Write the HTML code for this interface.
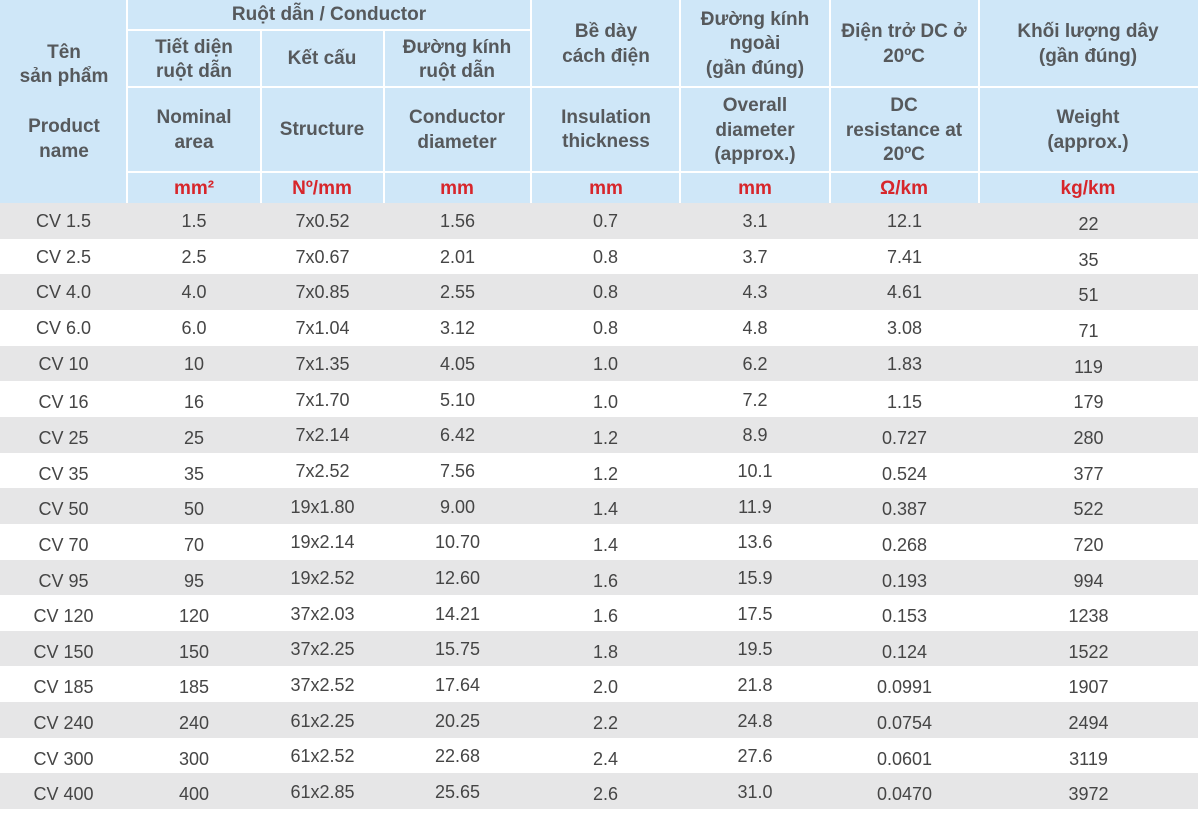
<!DOCTYPE html>
<html><head><meta charset="utf-8">
<style>
html,body{margin:0;padding:0;background:#fff;}
body{width:1200px;height:809px;position:relative;overflow:hidden;font-family:"Liberation Sans","DejaVu Sans",sans-serif;}
.hd{position:absolute;left:0;top:0;width:1198px;height:203px;background:#cfe7f8;}
.vl{position:absolute;width:2px;background:#fff;}
.hl{position:absolute;height:2px;background:#fff;}
.t{position:absolute;transform:translate(-50%,-50%);white-space:nowrap;font-weight:bold;font-size:19px;line-height:22px;color:#56595c;}
.u{color:#d7262b;}
.r{position:absolute;left:0;width:1198px;height:35.65px;}
.g{background:#e6e6e7;}
.r span{position:absolute;top:1px;height:35.65px;line-height:35.65px;text-align:center;font-size:18px;color:#454545;white-space:nowrap;}
.r span.w{top:4px;}
.r.b span{top:4px;}
.r.b span.s{top:1.5px;}
.c0{left:0;width:127px;}
.c1{left:127px;width:134px;}
.c2{left:261px;width:123px;}
.c3{left:384px;width:147px;}
.c4{left:531px;width:149px;}
.c5{left:680px;width:150px;}
.c6{left:830px;width:149px;}
.c7{left:979px;width:219px;}
</style></head><body>
<div class="hd"></div>
<!-- header lines -->
<div class="vl" style="left:126px;top:0;height:203px"></div>
<div class="vl" style="left:260px;top:30px;height:173px"></div>
<div class="vl" style="left:383px;top:30px;height:173px"></div>
<div class="vl" style="left:530px;top:0;height:203px"></div>
<div class="vl" style="left:679px;top:0;height:203px"></div>
<div class="vl" style="left:829px;top:0;height:203px"></div>
<div class="vl" style="left:978px;top:0;height:203px"></div>
<div class="hl" style="left:127px;top:29px;width:404px"></div>
<div class="hl" style="left:127px;top:86px;width:1071px"></div>
<div class="hl" style="left:127px;top:171px;width:1071px"></div>

<!-- header text -->
<div class="t" style="left:64px;top:53px">Tên</div>
<div class="t" style="left:64px;top:77px">sản phẩm</div>
<div class="t" style="left:64px;top:127px">Product</div>
<div class="t" style="left:64px;top:152px">name</div>

<div class="t" style="left:329px;top:15px">Ruột dẫn / Conductor</div>

<div class="t" style="left:194px;top:48px">Tiết diện</div>
<div class="t" style="left:194px;top:72px">ruột dẫn</div>
<div class="t" style="left:322px;top:59px">Kết cấu</div>
<div class="t" style="left:457px;top:48px">Đường kính</div>
<div class="t" style="left:457px;top:72px">ruột dẫn</div>
<div class="t" style="left:606px;top:32px">Bề dày</div>
<div class="t" style="left:606px;top:57px">cách điện</div>
<div class="t" style="left:755px;top:20px">Đường kính</div>
<div class="t" style="left:755px;top:44px">ngoài</div>
<div class="t" style="left:755px;top:69px">(gần đúng)</div>
<div class="t" style="left:904px;top:32px">Điện trở DC ở</div>
<div class="t" style="left:904px;top:57px">20ºC</div>
<div class="t" style="left:1088px;top:32px">Khối lượng dây</div>
<div class="t" style="left:1088px;top:57px">(gần đúng)</div>

<div class="t" style="left:194px;top:118px">Nominal</div>
<div class="t" style="left:194px;top:143px">area</div>
<div class="t" style="left:322px;top:130px">Structure</div>
<div class="t" style="left:457px;top:118px">Conductor</div>
<div class="t" style="left:457px;top:143px">diameter</div>
<div class="t" style="left:606px;top:118px">Insulation</div>
<div class="t" style="left:606px;top:142px">thickness</div>
<div class="t" style="left:755px;top:106px">Overall</div>
<div class="t" style="left:755px;top:131px">diameter</div>
<div class="t" style="left:755px;top:155px">(approx.)</div>
<div class="t" style="left:904px;top:106px">DC</div>
<div class="t" style="left:904px;top:131px">resistance at</div>
<div class="t" style="left:904px;top:155px">20ºC</div>
<div class="t" style="left:1088px;top:118px">Weight</div>
<div class="t" style="left:1088px;top:143px">(approx.)</div>

<div class="t u" style="left:194px;top:189px">mm²</div>
<div class="t u" style="left:322px;top:189px">Nº/mm</div>
<div class="t u" style="left:457px;top:189px">mm</div>
<div class="t u" style="left:606px;top:189px">mm</div>
<div class="t u" style="left:755px;top:189px">mm</div>
<div class="t u" style="left:904px;top:189px">Ω/km</div>
<div class="t u" style="left:1088px;top:189px">kg/km</div>

<!-- data rows -->
<div class="r g" style="top:203px"><span class="c0">CV 1.5</span><span class="c1">1.5</span><span class="c2">7x0.52</span><span class="c3">1.56</span><span class="c4">0.7</span><span class="c5">3.1</span><span class="c6">12.1</span><span class="c7 w">22</span></div>
<div class="r" style="top:238.65px"><span class="c0">CV 2.5</span><span class="c1">2.5</span><span class="c2">7x0.67</span><span class="c3">2.01</span><span class="c4">0.8</span><span class="c5">3.7</span><span class="c6">7.41</span><span class="c7 w">35</span></div>
<div class="r g" style="top:274.3px"><span class="c0">CV 4.0</span><span class="c1">4.0</span><span class="c2">7x0.85</span><span class="c3">2.55</span><span class="c4">0.8</span><span class="c5">4.3</span><span class="c6">4.61</span><span class="c7 w">51</span></div>
<div class="r" style="top:309.95px"><span class="c0">CV 6.0</span><span class="c1">6.0</span><span class="c2">7x1.04</span><span class="c3">3.12</span><span class="c4">0.8</span><span class="c5">4.8</span><span class="c6">3.08</span><span class="c7 w">71</span></div>
<div class="r g" style="top:345.6px"><span class="c0">CV 10</span><span class="c1">10</span><span class="c2">7x1.35</span><span class="c3">4.05</span><span class="c4">1.0</span><span class="c5">6.2</span><span class="c6">1.83</span><span class="c7 w">119</span></div>
<div class="r b" style="top:381.25px"><span class="c0">CV 16</span><span class="c1">16</span><span class="c2 s">7x1.70</span><span class="c3 s">5.10</span><span class="c4">1.0</span><span class="c5 s">7.2</span><span class="c6">1.15</span><span class="c7">179</span></div>
<div class="r g b" style="top:416.9px"><span class="c0">CV 25</span><span class="c1">25</span><span class="c2 s">7x2.14</span><span class="c3 s">6.42</span><span class="c4">1.2</span><span class="c5 s">8.9</span><span class="c6">0.727</span><span class="c7">280</span></div>
<div class="r b" style="top:452.55px"><span class="c0">CV 35</span><span class="c1">35</span><span class="c2 s">7x2.52</span><span class="c3 s">7.56</span><span class="c4">1.2</span><span class="c5 s">10.1</span><span class="c6">0.524</span><span class="c7">377</span></div>
<div class="r g b" style="top:488.2px"><span class="c0">CV 50</span><span class="c1">50</span><span class="c2 s">19x1.80</span><span class="c3 s">9.00</span><span class="c4">1.4</span><span class="c5 s">11.9</span><span class="c6">0.387</span><span class="c7">522</span></div>
<div class="r b" style="top:523.85px"><span class="c0">CV 70</span><span class="c1">70</span><span class="c2 s">19x2.14</span><span class="c3 s">10.70</span><span class="c4">1.4</span><span class="c5 s">13.6</span><span class="c6">0.268</span><span class="c7">720</span></div>
<div class="r g b" style="top:559.5px"><span class="c0">CV 95</span><span class="c1">95</span><span class="c2 s">19x2.52</span><span class="c3 s">12.60</span><span class="c4">1.6</span><span class="c5 s">15.9</span><span class="c6">0.193</span><span class="c7">994</span></div>
<div class="r b" style="top:595.15px"><span class="c0">CV 120</span><span class="c1">120</span><span class="c2 s">37x2.03</span><span class="c3 s">14.21</span><span class="c4">1.6</span><span class="c5 s">17.5</span><span class="c6">0.153</span><span class="c7">1238</span></div>
<div class="r g b" style="top:630.8px"><span class="c0">CV 150</span><span class="c1">150</span><span class="c2 s">37x2.25</span><span class="c3 s">15.75</span><span class="c4">1.8</span><span class="c5 s">19.5</span><span class="c6">0.124</span><span class="c7">1522</span></div>
<div class="r b" style="top:666.45px"><span class="c0">CV 185</span><span class="c1">185</span><span class="c2 s">37x2.52</span><span class="c3 s">17.64</span><span class="c4">2.0</span><span class="c5 s">21.8</span><span class="c6">0.0991</span><span class="c7">1907</span></div>
<div class="r g b" style="top:702.1px"><span class="c0">CV 240</span><span class="c1">240</span><span class="c2 s">61x2.25</span><span class="c3 s">20.25</span><span class="c4">2.2</span><span class="c5 s">24.8</span><span class="c6">0.0754</span><span class="c7">2494</span></div>
<div class="r b" style="top:737.75px"><span class="c0">CV 300</span><span class="c1">300</span><span class="c2 s">61x2.52</span><span class="c3 s">22.68</span><span class="c4">2.4</span><span class="c5 s">27.6</span><span class="c6">0.0601</span><span class="c7">3119</span></div>
<div class="r g b" style="top:773.4px"><span class="c0">CV 400</span><span class="c1">400</span><span class="c2 s">61x2.85</span><span class="c3 s">25.65</span><span class="c4">2.6</span><span class="c5 s">31.0</span><span class="c6">0.0470</span><span class="c7">3972</span></div>
</body></html>
